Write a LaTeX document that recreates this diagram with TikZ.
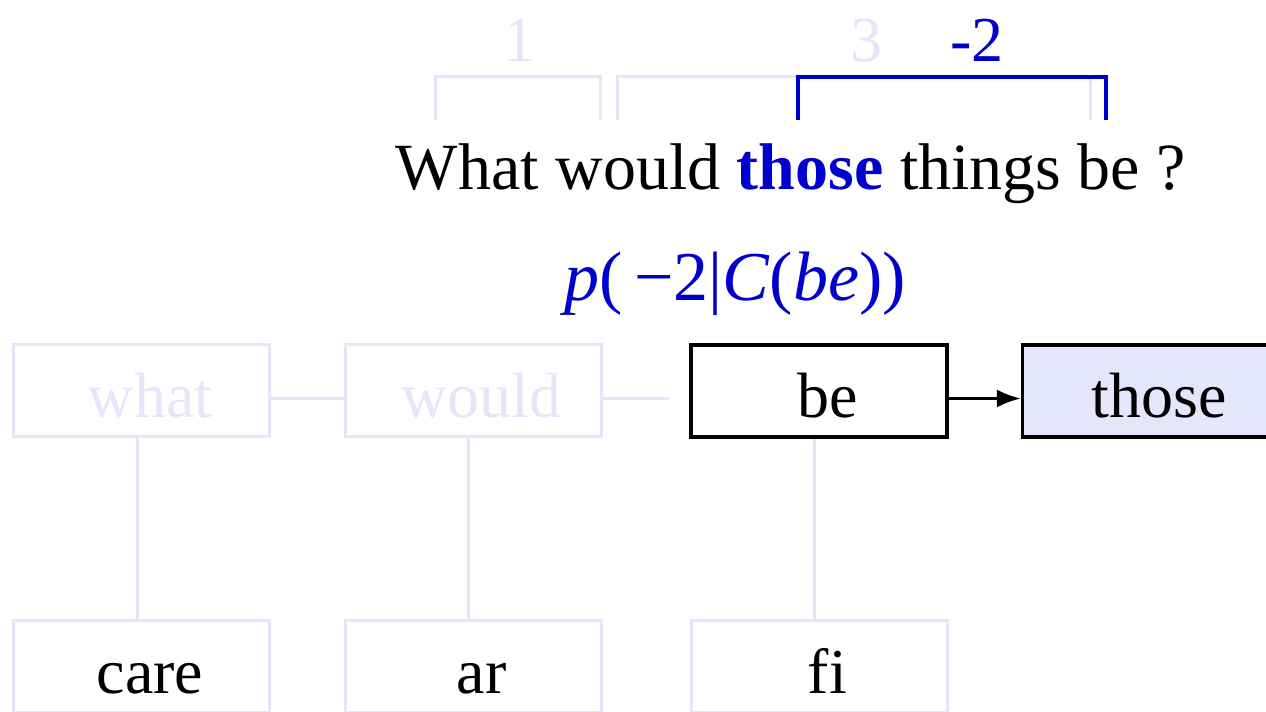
\documentclass[tikz,border=0pt]{standalone}
\usepackage{fontspec}
\setmainfont{Liberation Serif}
\usetikzlibrary{arrows.meta, positioning}
\definecolor{FadeBlue}{HTML}{E6E6FA}
\definecolor{HiBlue}{HTML}{0000CC}

\tikzset{
    word/.style={draw=black, line width=1.6pt, minimum width=128pt, minimum height=46pt,
        inner sep=0pt, font=\fontsize{32}{38}\selectfont, text height=27pt, text depth=0pt,
        execute at begin node={\hspace*{8.5pt}}},
    faded/.style={draw=FadeBlue, line width=1.5pt},
    link/.style={draw=FadeBlue, line width=1.5pt},
    span/.style={draw=FadeBlue, line width=1.5pt},
    spanlabel/.style={anchor=base, font=\fontsize{32}{38}\selectfont},
}

\begin{document}
\begin{tikzpicture}[x=25pt, y=25pt]
    \useasboundingbox (0,0) rectangle (25.32,14.24);

    % === Sentence with distance spans ===
    \node[anchor=base, font=\fontsize{33}{40}\selectfont] (sent) at (15.82,10.44)
        {What would \textcolor{HiBlue}{\textbf{those}} things be ?};
    \draw[span] (8.70,11.84) |- (12.00,12.70) -- (12.00,11.84);
    \draw[span] (12.34,11.84) |- (21.80,12.70) -- (21.80,11.84);
    \draw[span, draw=HiBlue, line width=2pt] (15.96,11.84) |- (22.12,12.70) -- (22.12,11.84);
    \node[spanlabel, text=FadeBlue] (dist1) at (10.38,13.00) {1};
    \node[spanlabel, text=FadeBlue] (dist3) at (17.32,13.00) {3};
    \node[spanlabel, text=HiBlue] (dist2) at (19.54,13.00) {-2};

    % === Probability ===
    \node[anchor=base, text=HiBlue, font=\fontsize{35}{42}\selectfont] (prob) at (14.70,8.22)
        {\textit{p}(\,−2|\textit{C}(\textit{be}))};

    % === Word row ===
    \node[word, faded, text=FadeBlue] (what) at (2.83,6.42) {what};
    \node[word, faded, text=FadeBlue] (would) at (9.46,6.42) {would};
    \node[word] (be) at (16.38,6.42) {be};
    \node[word, fill=FadeBlue] (those) at (23.01,6.42) {those};

    % === Child row ===
    \node[word, faded] (care) at (2.83,0.90) {care};
    \node[word, faded] (ar) at (9.46,0.90) {ar};
    \node[word, faded] (fi) at (16.38,0.90) {fi};

    % === Links ===
    \draw[link] ([yshift=-3.75pt]what.east) -- ([yshift=-3.75pt]would.west);
    \draw[link, shorten >=10pt] ([yshift=-3.75pt]would.east) -- ([yshift=-3.75pt]be.west);
    \draw[line width=1.6pt, -{Latex[length=12pt, width=9pt]}] ([yshift=-3.75pt]be.east) -- ([yshift=-3.75pt]those.west);
    \draw[link] ([xshift=-2.25pt]what.south) -- ([xshift=-2.25pt]care.north);
    \draw[link] ([xshift=-2.25pt]would.south) -- ([xshift=-2.25pt]ar.north);
    \draw[link] ([xshift=-2.25pt]be.south) -- ([xshift=-2.25pt]fi.north);

\end{tikzpicture}
\end{document}
